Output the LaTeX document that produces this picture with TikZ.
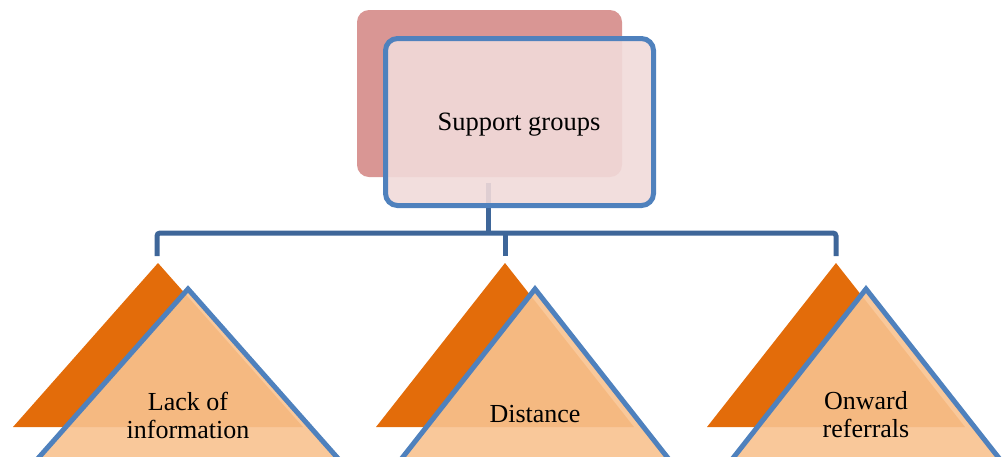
\documentclass[tikz,border=0pt]{standalone}
\usepackage{fontspec}
\setmainfont{Liberation Serif}
\definecolor{backred}{RGB}{217,150,148}
\definecolor{frontpink}{RGB}{241,218,217}
\definecolor{boxblue}{RGB}{79,129,189}
\definecolor{linkblue}{RGB}{62,102,153}
\definecolor{darkorange}{RGB}{227,108,10}
\definecolor{lightorange}{RGB}{248,194,143}
\begin{document}
\begin{tikzpicture}[x=1pt,y=-1pt,
  backbox/.style={draw=none,fill=backred,rounded corners=12pt,minimum width=265pt,minimum height=167pt,inner sep=0pt},
  frontbox/.style={draw=boxblue,line width=5pt,fill=frontpink,fill opacity=0.9,text opacity=1,rounded corners=12pt,minimum width=268pt,minimum height=167pt,inner sep=0pt},
  link/.style={draw=linkblue,line width=5pt},
  backtri/.style={fill=darkorange,draw=none},
  fronttri/.style={fill=lightorange,fill opacity=0.9,draw=boxblue,line width=5pt,line join=miter},
  label/.style={align=center,font=\fontsize{26}{28}\selectfont,inner sep=0pt}]
\useasboundingbox (0,0) rectangle (1003,456);
\clip (0,0) rectangle (1003,456);
% back box
\node[backbox] (back) at (489.5,93.5) {};
% connectors
\coordinate (root) at (488,183);
\coordinate (hub) at (488,233);
\coordinate (dl) at (157,256);
\coordinate (dm) at (505,256);
\coordinate (dr) at (836,256);
\draw[link] (root) -- (hub);
\draw[link,rounded corners=3pt] (dl) |- (hub) -| (dr);
\draw[link] (dm) -- (dm |- hub);
% front box
\node[frontbox] (sg) at (519.5,122) {};
\node[inner sep=0pt,font=\fontsize{26.5}{29}\selectfont] (sgt) at (519,124.5) {Support groups};
% triangles
\coordinate (al) at (158,263);
\coordinate (am) at (505,263);
\coordinate (ar) at (836,263);
\fill[backtri] (al) -- ++(-145,164) -- ++(290,0) -- cycle;
\fill[backtri] (am) -- ++(-129,164) -- ++(258,0) -- cycle;
\fill[backtri] (ar) -- ++(-129,164) -- ++(258,0) -- cycle;
\coordinate (fl) at (188,289);
\coordinate (fm) at (535,289);
\coordinate (fr) at (866,289);
\draw[fronttri] (fl) -- ++(-170,192) -- ++(340,0) -- cycle;
\draw[fronttri] (fm) -- ++(-151,192) -- ++(302,0) -- cycle;
\draw[fronttri] (fr) -- ++(-151,192) -- ++(302,0) -- cycle;
% labels
\node[label] (t1) at (188,415) {Lack of\\information};
\node[label] (t2) at (535,414.5) {Distance};
\node[label] (t3) at (866,415) {Onward\\referrals};
\end{tikzpicture}
\end{document}
